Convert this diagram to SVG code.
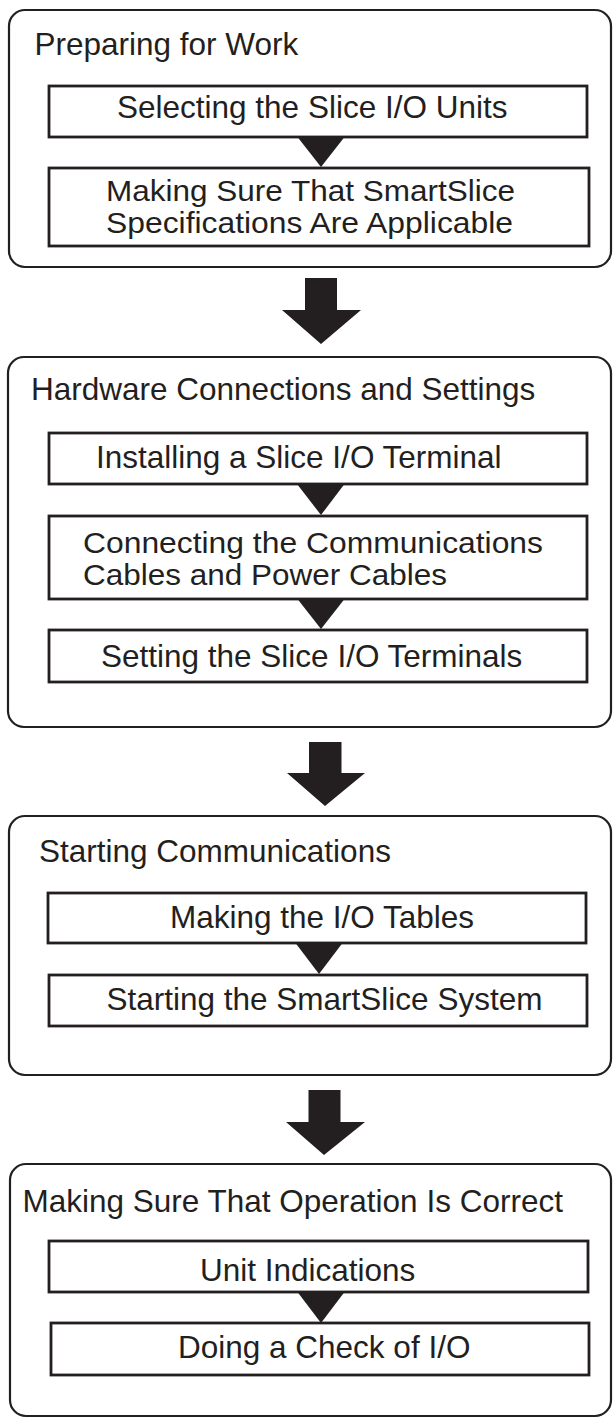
<svg xmlns="http://www.w3.org/2000/svg" width="614" height="1418" viewBox="0 0 614 1418">
<style>
.grp{fill:#fff;stroke:#231f20;stroke-width:2.2}
.box{fill:#fff;stroke:#231f20;stroke-width:2.8}
.t{font-family:"Liberation Sans",Arial,Helvetica,sans-serif;font-size:31.5px;fill:#231f20}
.t2{font-family:"Liberation Sans",Arial,Helvetica,sans-serif;font-size:28.6px;fill:#231f20}
.tri{fill:#231f20}
.big{fill:#231f20}
</style>
<rect width="614" height="1418" fill="#fff"/>
<g id="group1">
<rect class="grp" x="9" y="10" width="602" height="257" rx="16"/>
<text class="t" x="34.5" y="55">Preparing for Work</text>
</g>
<g id="node-select">
<rect class="box" x="49" y="86" width="538" height="51"/>
<text class="t" x="117" y="118">Selecting the Slice I/O Units</text>
</g>
<g id="node-specs">
<rect class="box" x="49" y="168" width="540" height="78"/>
<text class="t2" x="106" y="201" textLength="409" lengthAdjust="spacingAndGlyphs">Making Sure That SmartSlice</text>
<text class="t2" x="106" y="233" textLength="407" lengthAdjust="spacingAndGlyphs">Specifications Are Applicable</text>
</g>
<g id="group2">
<rect class="grp" x="8" y="357" width="603" height="370" rx="16"/>
<text class="t" x="31" y="400">Hardware Connections and Settings</text>
</g>
<g id="node-install">
<rect class="box" x="49" y="433" width="538" height="51"/>
<text class="t" x="96" y="468">Installing a Slice I/O Terminal</text>
</g>
<g id="node-connect">
<rect class="box" x="49" y="516" width="538" height="83"/>
<text class="t2" x="83" y="553" textLength="460" lengthAdjust="spacingAndGlyphs">Connecting the Communications</text>
<text class="t2" x="83" y="585" textLength="364" lengthAdjust="spacingAndGlyphs">Cables and Power Cables</text>
</g>
<g id="node-setting">
<rect class="box" x="49" y="630" width="538" height="52"/>
<text class="t" x="101" y="667">Setting the Slice I/O Terminals</text>
</g>
<g id="group3">
<rect class="grp" x="9" y="816" width="602" height="259" rx="16"/>
<text class="t" x="39" y="862">Starting Communications</text>
</g>
<g id="node-tables">
<rect class="box" x="48" y="893" width="538" height="50"/>
<text class="t" x="170" y="928">Making the I/O Tables</text>
</g>
<g id="node-start">
<rect class="box" x="49" y="975" width="538" height="51"/>
<text class="t" x="106.5" y="1010">Starting the SmartSlice System</text>
</g>
<g id="group4">
<rect class="grp" x="10" y="1164" width="601" height="252" rx="16"/>
<text class="t" x="22.5" y="1212">Making Sure That Operation Is Correct</text>
</g>
<g id="node-indications">
<rect class="box" x="49" y="1241" width="539" height="51"/>
<text class="t" x="200" y="1281">Unit Indications</text>
</g>
<g id="node-check">
<rect class="box" x="51" y="1323" width="538" height="52"/>
<text class="t" x="178" y="1358">Doing a Check of I/O</text>
</g>
<g id="connectors">
<polygon class="tri" points="297.5,137 344.5,137 321,167"/>
<polygon class="tri" points="297,484 344.5,484 321,515"/>
<polygon class="tri" points="297.5,599 344.5,599 321,629"/>
<polygon class="tri" points="295.5,943 342.5,943 319,974"/>
<polygon class="tri" points="297.5,1292 344.5,1292 321,1323"/>
<polygon class="big" points="305,278 337,278 337,310 361,310 321,344 282,310 305,310"/>
<polygon class="big" points="309,742 341.5,742 341.5,773 365,773 325,806 287,773 309,773"/>
<polygon class="big" points="308.5,1090 340.5,1090 340.5,1122 365,1122 324,1155 286,1122 308.5,1122"/>
</g>
</svg>
